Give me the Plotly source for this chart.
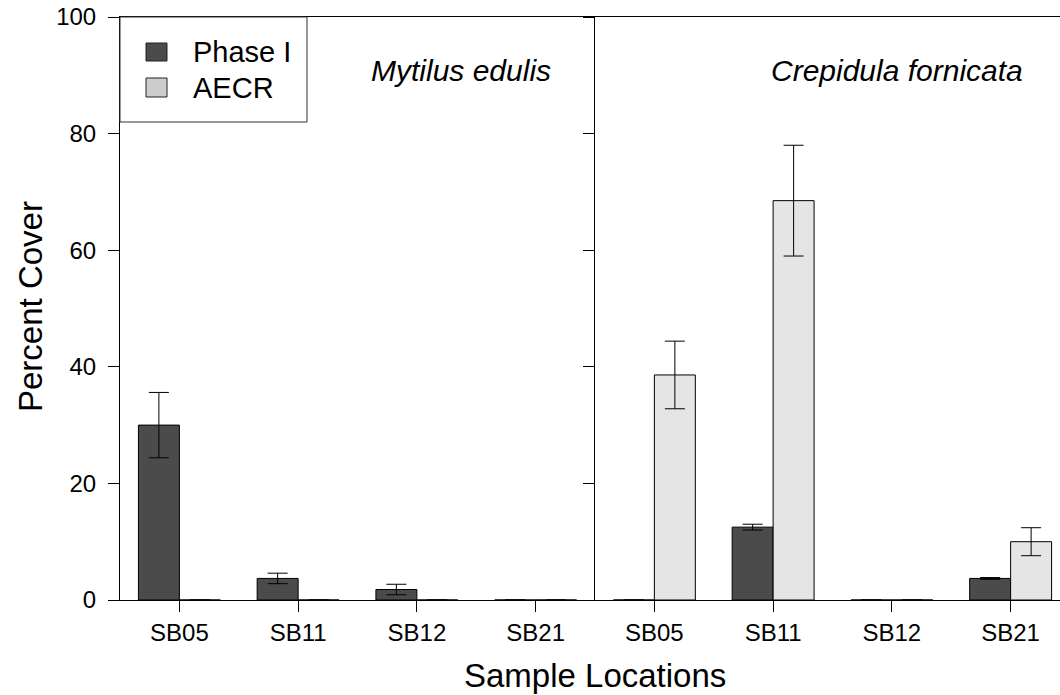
import plotly.graph_objects as go

# ---- data ----
locations = ["SB05", "SB11", "SB12", "SB21"]
panel_titles = ["Mytilus edulis", "Crepidula fornicata"]
series_names = ["Phase I", "AECR"]

mytilus_phase1 = [30.0, 3.7, 1.8, 0.0]
mytilus_phase1_err = [5.6, 0.9, 0.9, 0.0]
mytilus_aecr = [0.0, 0.0, 0.0, 0.0]
mytilus_aecr_err = [0.0, 0.0, 0.0, 0.0]

crepidula_phase1 = [0.0, 12.5, 0.0, 3.7]
crepidula_phase1_err = [0.0, 0.5, 0.0, 0.15]
crepidula_aecr = [38.6, 68.5, 0.0, 10.0]
crepidula_aecr_err = [5.8, 9.5, 0.0, 2.4]

y_ticks = [0, 20, 40, 60, 80, 100]

# ---- styling ----
FONT = "Liberation Sans, Arial, sans-serif"
DARK = "#4b4b4b"
LIGHT = "#e5e5e5"
LIGHT_LEG = "#cccccc"

W, H = 1060, 695
# plot area in pixels
P_L, P_T, P_B = 120, 17, 600
ML, MT, MR = P_L, P_T, 0
MB = H - P_B
PW = W - ML - MR
PH = H - MT - MB
split_px = 595
split = (split_px - P_L) / PW


def px_x(sx):
    return (sx - P_L) / PW


def px_y(sy):
    return (P_B - sy) / PH


fig = go.Figure()

panels = [
    ("x", "y", mytilus_phase1, mytilus_phase1_err, mytilus_aecr, mytilus_aecr_err),
    ("x2", "y2", crepidula_phase1, crepidula_phase1_err, crepidula_aecr, crepidula_aecr_err),
]
for xa, ya, p1, p1e, ae, aee in panels:
    for name, vals, errs, col in [(series_names[0], p1, p1e, DARK), (series_names[1], ae, aee, LIGHT)]:
        fig.add_trace(go.Bar(
            x=locations, y=vals, name=name, xaxis=xa, yaxis=ya,
            marker=dict(color=col, line=dict(color="black", width=1)),
            error_y=dict(type="data", array=errs, visible=True, color="black",
                         thickness=1, width=10),
            showlegend=False,
        ))

axis_common = dict(
    showline=True, linecolor="black", linewidth=1,
    ticks="outside", ticklen=11, tickcolor="black", tickwidth=1,
    showgrid=False, zeroline=False, automargin=False,
    tickfont=dict(family=FONT, size=24, color="black"),
)

unit_px = (split_px - P_L) / 4

fig.update_layout(
    width=W, height=H,
    margin=dict(l=ML, r=MR, t=MT, b=MB, pad=0, autoexpand=False),
    paper_bgcolor="white", plot_bgcolor="white",
    barmode="group", bargap=0.31, bargroupgap=0,
    showlegend=False,
    font=dict(family=FONT, color="black"),
    xaxis=dict(domain=[0, split], range=[-0.5, 3.5], type="category",
               mirror=True, **axis_common),
    xaxis2=dict(domain=[split, 1], range=[-0.5, -0.5 + (W - split_px) / unit_px],
                type="category", mirror=True, anchor="y2", **axis_common),
    yaxis=dict(domain=[0, 1], range=[0, 100], tickvals=y_ticks,
               anchor="x", ticklabelstandoff=7, **axis_common),
    yaxis2=dict(domain=[0, 1], range=[0, 100], tickvals=y_ticks, anchor="x2",
                showticklabels=False, matches="y", **axis_common),
)

# axis titles
fig.add_annotation(text="Sample Locations", xref="paper", yref="paper",
                   x=px_x(595), y=px_y(675), showarrow=False,
                   font=dict(family=FONT, size=33, color="black"),
                   xanchor="center", yanchor="middle")
fig.add_annotation(text="Percent Cover", xref="paper", yref="paper",
                   x=px_x(30), y=px_y(307), showarrow=False, textangle=-90,
                   font=dict(family=FONT, size=33, color="black"),
                   xanchor="center", yanchor="middle")

# panel labels
for title, cx in zip(panel_titles, [461, 897]):
    fig.add_annotation(text=f"<i>{title}</i>", xref="paper", yref="paper",
                       x=px_x(cx), y=px_y(71), showarrow=False,
                       font=dict(family=FONT, size=30, color="black"),
                       xanchor="center", yanchor="middle")

# legend (drawn manually to match the boxed legend with large keys)
fig.add_shape(type="rect", xref="paper", yref="paper",
              x0=px_x(120), x1=px_x(307), y0=px_y(122), y1=px_y(17),
              line=dict(color="#333333", width=1), fillcolor="white", layer="above")
for name, col, top, bot in [(series_names[0], DARK, 43, 61), (series_names[1], LIGHT_LEG, 78, 97)]:
    fig.add_shape(type="rect", xref="paper", yref="paper",
                  x0=px_x(146), x1=px_x(167), y0=px_y(bot), y1=px_y(top),
                  line=dict(color="#222222", width=1), fillcolor=col, layer="above")
    fig.add_annotation(text=name, xref="paper", yref="paper",
                       x=px_x(191), y=px_y((top + bot) / 2), showarrow=False,
                       font=dict(family=FONT, size=29, color="black"),
                       xanchor="left", yanchor="middle")

# remove the default page margin so the 1060x695 figure fills the window exactly
fig.write_html("out.html", config={"displayModeBar": False},
               post_script="document.body.style.margin='0';")
